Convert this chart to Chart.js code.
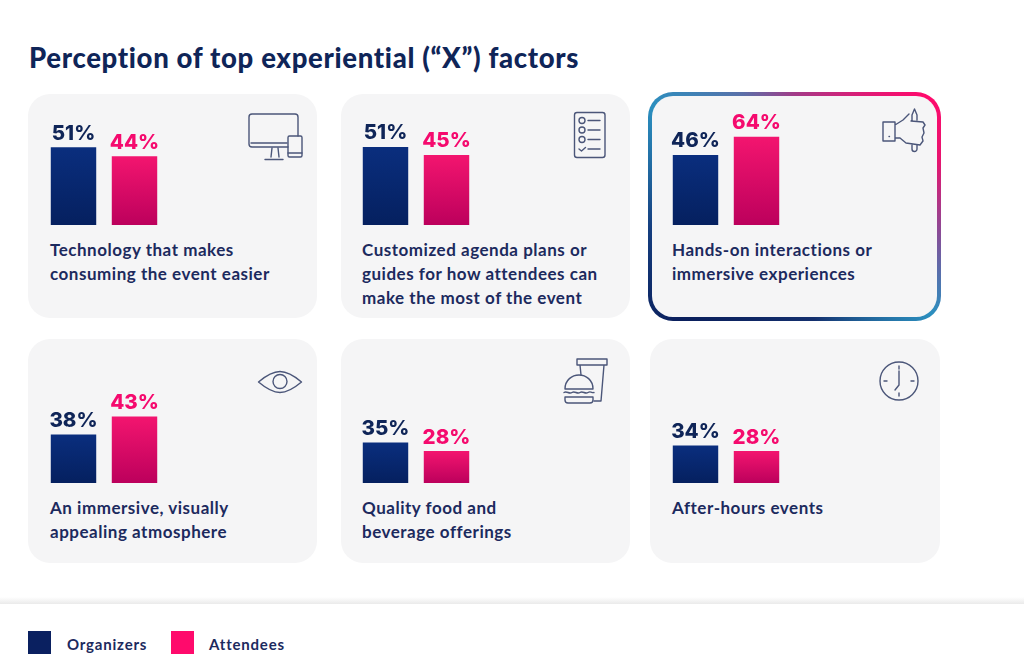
<!DOCTYPE html>
<html><head><meta charset="utf-8">
<script src="https://cdn.jsdelivr.net/npm/chart.js@4"></script>
<style>
html,body{margin:0;padding:0;background:#fff;width:1024px;height:668px;overflow:hidden}
body{position:relative;font-family:Lato,sans-serif;color:#1c2a5e}
#title{position:absolute;left:29px;top:40px;font:900 27.500px/36px Lato,sans-serif;color:#0f2558;letter-spacing:.67px;white-space:nowrap}
.card{position:absolute;background:#f5f5f6;border-radius:22px;box-sizing:border-box}
.hi{border:4px solid transparent;border-radius:25px;background:linear-gradient(#f5f5f6,#f5f5f6) padding-box,conic-gradient(from 0deg at 50% 50%,#a23b88 0deg,#ff0a6c 50deg,#e8146f 72deg,#8a4b96 100deg,#2b8fbf 128deg,#14306e 170deg,#0a1f5c 225deg,#153f80 262deg,#2b8fbf 305deg,#5a6fa8 335deg,#a23b88 360deg) border-box}
.lab{position:absolute;font:700 17px/24px Lato,sans-serif;color:#1c2a5e;white-space:nowrap;letter-spacing:.52px}
canvas{position:absolute}
svg.ic{position:absolute;left:0;top:0;pointer-events:none}
svg.ic *{fill:none;stroke:#4b5679;stroke-width:1.4;stroke-linejoin:round;stroke-linecap:round}
#rule{position:absolute;left:0;top:597px;width:1024px;height:7px;background:linear-gradient(#fff,#eaeaea)}
.sw{position:absolute;top:631px;width:23px;height:23px}
.lg{position:absolute;top:634px;font:700 15px/20px Lato,sans-serif;color:#1c2a5e;letter-spacing:.8px;white-space:nowrap}
</style></head><body>
<div id="title"></div>
<div id="rule"></div>
<div class="sw" style="left:28px;background:#0a2060"></div><div class="lg" style="left:67px" id="l0"></div>
<div class="sw" style="left:171px;background:#ff0a6c"></div><div class="lg" style="left:209px" id="l1"></div>
<script>
const titleText = 'Perception of top experiential (“X”) factors';
const seriesNames = ['Organizers', 'Attendees'];
const categories = [
  ['Technology that makes', 'consuming the event easier'],
  ['Customized agenda plans or', 'guides for how attendees can', 'make the most of the event'],
  ['Hands-on interactions or', 'immersive experiences'],
  ['An immersive, visually', 'appealing atmosphere'],
  ['Quality food and', 'beverage offerings'],
  ['After-hours events']
];
// Percentages printed above the bars
const organizerLabels = [51, 51, 46, 38, 35, 34];
const attendeeLabels = [44, 45, 64, 43, 28, 28];
// Bar heights as drawn in the picture (the source's bars are not strictly proportional to the printed numbers)
const organizerBars = [50.8, 51, 45.8, 31.7, 26.5, 24.5];
const attendeeBars = [44.9, 45.8, 57.7, 43.5, 20.9, 20.9];

document.getElementById('title').textContent = titleText;
document.getElementById('l0').textContent = seriesNames[0];
document.getElementById('l1').textContent = seriesNames[1];

const cards = [
  {x:28,y:94,w:289,h:224},{x:341,y:94,w:289,h:224},{x:648,y:92,w:293,h:229,hi:true},
  {x:28,y:339,w:289,h:224},{x:341,y:339,w:289,h:224},{x:650,y:339,w:290,h:224}
];
const barX = [50,362,672,50,362,672];
const baseY = [225,225,225,482.5,482.5,482.5];
const labelTop = [238,238,238,496,496,496];

function barGradient(c, top, bot){
  const ch = c.chart; if(!ch.chartArea) return top;
  const v = c.raw, y = ch.scales.y;
  const g = ch.ctx.createLinearGradient(0, y.getPixelForValue(v), 0, y.getPixelForValue(0));
  g.addColorStop(0, top); g.addColorStop(1, bot); return g;
}
const valuePlugin = {
  id:'valueText',
  afterDatasetsDraw(ch){
    const cx = ch.ctx;
    cx.save();
    cx.textAlign='center'; cx.textBaseline='alphabetic';
    cx.font='800 20.5px Inter, sans-serif';
    ch.data.datasets.forEach((d,i)=>{
      const el = ch.getDatasetMeta(i).data[0];
      cx.fillStyle = i===0 ? '#0f2558' : '#f50a6e';
      cx.fillText(d.printed+'%', el.x, el.y-7.5);
    });
    cx.restore();
  }
};
categories.forEach((lines,i)=>{
  const c = cards[i];
  const card = document.createElement('div');
  card.className = 'card'+(c.hi?' hi':'');
  card.style.cssText = `left:${c.x}px;top:${c.y}px;width:${c.w}px;height:${c.h}px`;
  document.body.appendChild(card);
  const lab = document.createElement('div');
  lab.className='lab'; lab.style.left=barX[i]+'px'; lab.style.top=labelTop[i]+'px';
  lab.innerHTML = lines.join('<br>');
  document.body.appendChild(lab);
  const cv = document.createElement('canvas');
  cv.width=122; cv.height=153;
  cv.style.cssText=`left:${barX[i]-7.5}px;top:${baseY[i]-153}px;width:122px;height:153px`;
  document.body.appendChild(cv);
  new Chart(cv,{
    type:'bar',
    data:{labels:[lines.join(' ')],datasets:[
      {label:seriesNames[0],data:[organizerBars[i]],printed:organizerLabels[i],backgroundColor:ct=>barGradient(ct,'#0a2e7e','#05205f')},
      {label:seriesNames[1],data:[attendeeBars[i]],printed:attendeeLabels[i],backgroundColor:ct=>barGradient(ct,'#f3156f','#bc005c')}
    ]},
    options:{
      responsive:false,animation:false,devicePixelRatio:1,
      layout:{padding:0},
      plugins:{legend:{display:false},tooltip:{enabled:false}},
      datasets:{bar:{categoryPercentage:1,barPercentage:.745}},
      scales:{x:{display:false},y:{display:false,min:0,max:100}}
    },
    plugins:[valuePlugin]
  });
});
</script>
<svg class="ic" width="1024" height="668" viewBox="0 0 1024 668">
  <!-- monitor + tablet -->
  <path d="M288 147H252a3 3 0 0 1-3-3V117a3 3 0 0 1 3-3h43a3 3 0 0 1 3 3V136"/>
  <path d="M251 143H287M272 148l-1 9M278 148l1 9M265 159.500H283"/>
  <rect x="288" y="136" width="14" height="21" rx="1.500"/><path d="M288 153H302"/>
  <!-- checklist -->
  <rect x="574.500" y="112.500" width="30.500" height="45" rx="2.500"/>
  <circle cx="582" cy="120.500" r="3"/><circle cx="582" cy="130" r="3"/><circle cx="582" cy="139.500" r="3"/>
  <path d="M588 120.500H600M588 130H600M588 139.500H600M588 149H600M579 149l2.500 2 4-3.500"/>
  <!-- hand -->
  <path d="M883 122H895V141H883ZM895 125l8-5 6-6M895 138h5l6 5 14 2 3-4-1-4 2-4-1-5 2-3-2-3-12-1M912 120v-5l2.500-6 2.500 6v5M912 145v4a2.500 2.500 0 0 0 5 0v-4"/>
  <path d="M889 136.500h.5"/>
  <!-- eye -->
  <path d="M258.500 382C268 374 276 371.500 280 371.500S292 374 301.500 382C292 390 284 392.500 280 392.500S268 390 258.500 382Z"/>
  <circle cx="280" cy="381.500" r="7"/>
  <!-- burger + cup -->
  <path d="M577 359H607V365H577ZM580 365l1 10M604 365l-3 36H594"/>
  <path d="M565 389C565 380 572 375 579 375S593 380 593 389ZM564 392.500c3-2 5 2 8 0s5 2 8 0 5 2 8 0 4 1 6 0M565 397H593V400a3 3 0 0 1-3 3H568a3 3 0 0 1-3-3Z"/>
  <!-- clock -->
  <circle cx="899" cy="381" r="19"/>
  <path d="M899 366v3M899 393v3M884 381h3M911 381h3M899 371V385L895 390"/>
</svg>
</body></html>
